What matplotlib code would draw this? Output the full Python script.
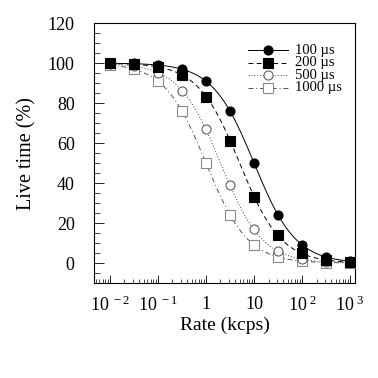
import numpy as np
import matplotlib
matplotlib.use("Agg")
import matplotlib.pyplot as plt
from matplotlib.ticker import FixedLocator, FixedFormatter, LogLocator, MultipleLocator, NullFormatter

plt.rcParams['font.family'] = ['Liberation Serif', 'DejaVu Serif']
plt.rcParams['mathtext.fontset'] = 'custom'
plt.rcParams['mathtext.rm'] = 'Liberation Serif'
plt.rcParams['mathtext.it'] = 'Liberation Serif'

# Data
rate_kcps = [0.01, 0.0316, 0.1, 0.316, 1, 3.16, 10, 31.6, 100, 316, 1000]
dead_times_us = [100, 200, 500, 1000]
live_100 = [100, 100, 99, 97, 91, 76, 50, 24, 9, 3, 1]
live_200 = [100, 99.4, 98, 94, 83, 61, 33, 14, 5, 1.6, 0.5]
live_500 = [99.5, 98.4, 95, 86, 67, 39, 17, 6, 2, 0.6, 0.2]
live_1000 = [99, 97, 91, 76, 50, 24, 9, 3, 1, 0.3, 0.1]
labels = ['100 µs', '200 µs', '500 µs', '1000 µs']
x_tick_vals = [0.01, 0.1, 1, 10, 100, 1000]
x_tick_labels = [r'$10^{\ -2}$', r'$10^{\ -1}$', '1', '10', r'$10^{\ 2}$', r'$10^{\ 3}$']

series = [live_100, live_200, live_500, live_1000]
styles = [
    dict(ls='-', marker='o', mfc='black', mec='black', lc='black', z=6),
    dict(ls=(0, (5, 3.5)), marker='s', mfc='black', mec='black', lc='black', z=5),
    dict(ls=(0, (1, 2)), marker='o', mfc='white', mec='#606060', lc='#404040', z=4),
    dict(ls=(0, (5, 3, 1, 3)), marker='s', mfc='white', mec='#8a8a8a', lc='#505050', z=3),
]

fig = plt.figure(figsize=(3.78, 3.78), dpi=100)
ax = fig.add_axes([0.249, 0.251, 0.690, 0.688])

fine = np.logspace(-2, 3, 300)
legend_rows = [0.896, 0.848, 0.800, 0.752]
for tau, vals, st, lab, ry in zip(dead_times_us, series, styles, labels, legend_rows):
    # dead-time model curve (fit line) through the measured points
    curve = 100.0 / (1.0 + fine * 1e3 * tau * 1e-6)
    ax.plot(fine, curve, ls=st['ls'], color=st['lc'], lw=0.7, zorder=st['z'])
    ax.plot(rate_kcps, vals, ls='none', marker=st['marker'], ms=6.5,
            mfc=st['mfc'], mec=st['mec'], mew=0.8, zorder=st['z'] + 10)
    # manual legend entry
    ax.plot([0.590, 0.743], [ry, ry], transform=ax.transAxes, ls=st['ls'],
            color=st['lc'], lw=0.7, clip_on=False)
    ax.plot([0.667], [ry], transform=ax.transAxes, ls='none', marker=st['marker'], ms=6.5,
            mfc=st['mfc'], mec=st['mec'], mew=0.8, clip_on=False)
    ax.text(0.770, ry, lab, transform=ax.transAxes, fontsize=10.5, va='center', ha='left')

ax.set_xscale('log')
ax.set_xlim(10**-2.33, 10**3.1)
ax.set_ylim(-10, 120)

ax.xaxis.set_major_locator(FixedLocator(x_tick_vals))
ax.xaxis.set_major_formatter(FixedFormatter(x_tick_labels))
ax.xaxis.set_minor_locator(LogLocator(base=10, subs=np.arange(2, 10), numticks=20))
ax.xaxis.set_minor_formatter(NullFormatter())
ax.yaxis.set_major_locator(MultipleLocator(20))
ax.yaxis.set_minor_locator(MultipleLocator(5))

ax.tick_params(axis='both', which='both', direction='in', top=False, right=False)
ax.tick_params(axis='x', which='major', length=6, width=0.6, labelsize=13, pad=9)
ax.tick_params(axis='x', which='minor', length=3, width=0.5)
ax.tick_params(axis='y', which='major', length=7, width=0.6, labelsize=13, pad=14)
ax.tick_params(axis='y', which='minor', length=4, width=0.5)
for sp in ax.spines.values():
    sp.set_linewidth(0.8)

ax.set_xlabel('Rate (kcps)', fontsize=14, labelpad=1)
ax.set_ylabel('Live time (%)', fontsize=14.5, labelpad=8)

fig.savefig('out.png', dpi=100)
